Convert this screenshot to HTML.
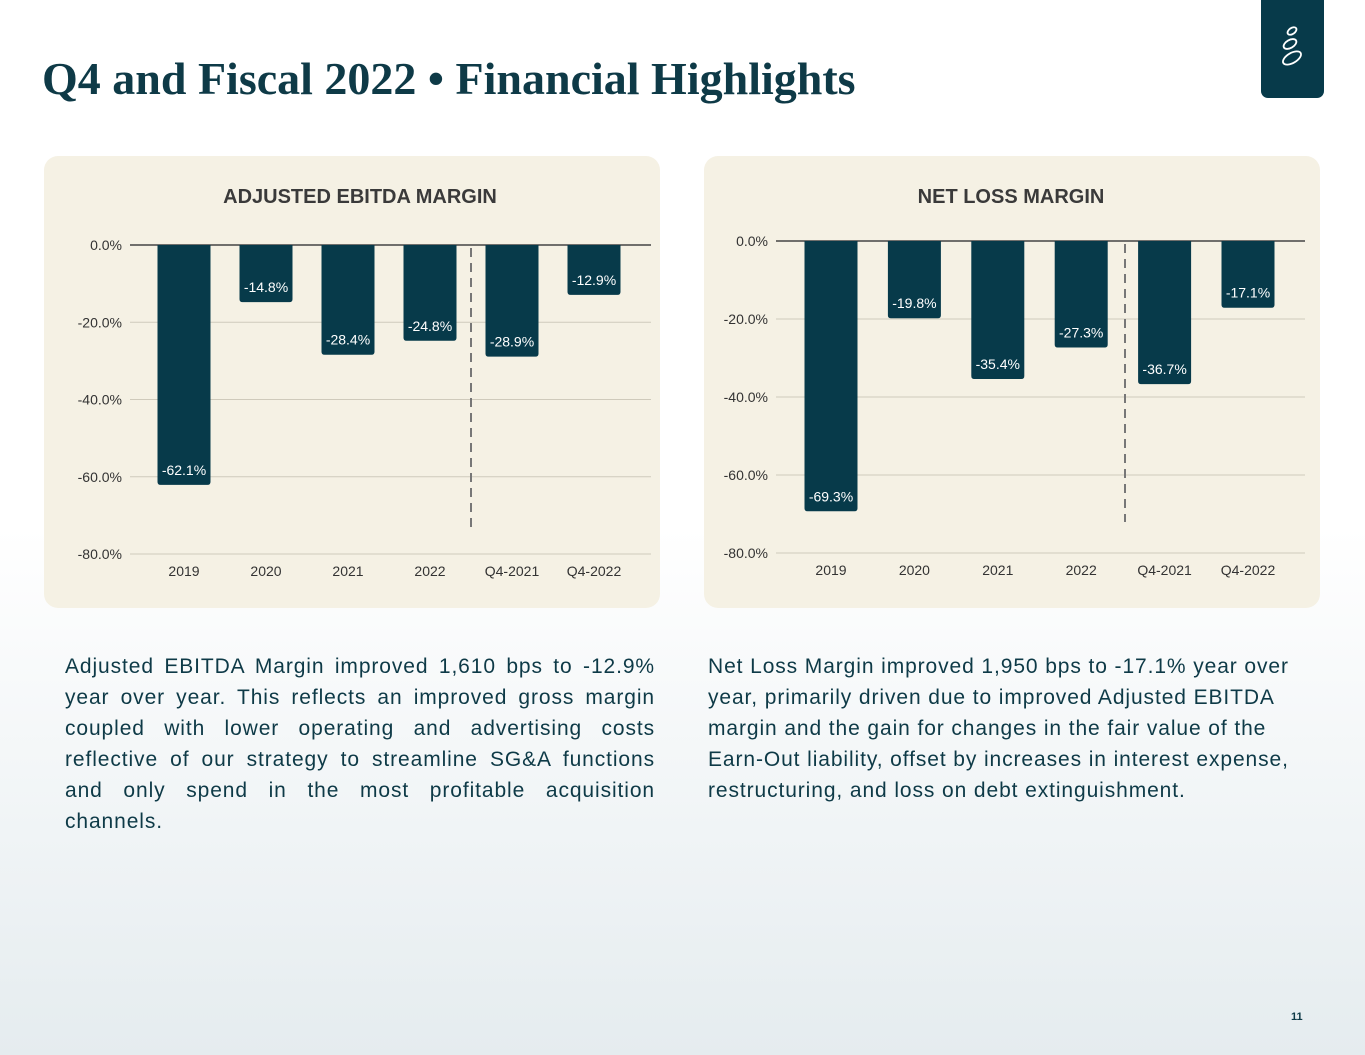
<!DOCTYPE html>
<html><head><meta charset="utf-8"><style>
html,body{margin:0;padding:0}
body{width:1365px;height:1055px;position:relative;overflow:hidden;background:linear-gradient(#ffffff 0%,#ffffff 50%,#e5ecef 100%);font-family:"Liberation Sans",sans-serif;color:#0e3a47}
#title{position:absolute;left:42px;top:52px;font-family:"Liberation Serif",serif;font-weight:bold;font-size:46px;letter-spacing:0;color:#0e3a47;margin:0;white-space:nowrap}
#logo{position:absolute;left:1261px;top:0;width:63px;height:98px;background:#073a4a;border-radius:0 0 7px 7px}
.panel{position:absolute;top:156px;width:616px;height:452px;background:#f5f1e4;border-radius:14px}
.para{position:absolute;top:651px;font-size:21px;line-height:31px;color:#0e3a47;letter-spacing:0.9px}
#p1{left:65px;width:590px}
#p1 span{display:block;text-align:justify;text-align-last:justify;white-space:nowrap}
#p1 span.last{text-align-last:left}
#p2{left:708px;width:620px;white-space:nowrap}
#pg{position:absolute;left:1291px;top:1011px;font-size:11px;font-weight:bold}
svg text{font-family:"Liberation Sans",sans-serif}
</style></head><body>
<h1 id="title">Q4 and Fiscal 2022 • Financial Highlights</h1>
<div id="logo">
<svg width="63" height="98" viewBox="0 0 63 98"><g fill="none" stroke="#fff" stroke-width="1.8">
<ellipse cx="31" cy="31" rx="5" ry="3" transform="rotate(-35 31 31)"/>
<ellipse cx="29" cy="44" rx="7" ry="4" transform="rotate(-30 29 44)"/>
<ellipse cx="31" cy="58" rx="10" ry="5" transform="rotate(-30 31 58)"/></g></svg></div>

<div class="panel" style="left:44px"></div>
<div class="panel" style="left:704px"></div>
<svg id="charts" width="1365" height="1055" style="position:absolute;left:0;top:0"></svg>

<div id="p1" class="para"><span>Adjusted EBITDA Margin improved 1,610 bps to -12.9%</span><span>year over year. This reflects an improved gross margin</span><span>coupled with lower operating and advertising costs</span><span>reflective of our strategy to streamline SG&amp;A functions</span><span>and only spend in the most profitable acquisition</span><span class="last">channels.</span></div>
<div id="p2" class="para">Net Loss Margin improved 1,950 bps to -17.1% year over<br>year, primarily driven due to improved Adjusted EBITDA<br>margin and the gain for changes in the fair value of the<br>Earn-Out liability, offset by increases in interest expense,<br>restructuring, and loss on debt extinguishment.</div>
<div id="pg">11</div>

<script>
const categories = ["2019","2020","2021","2022","Q4-2021","Q4-2022"];
const ebitdaValues = [-62.1,-14.8,-28.4,-24.8,-28.9,-12.9];
const netLossValues = [-69.3,-19.8,-35.4,-27.3,-36.7,-17.1];
const yTicks = [0,-20,-40,-60,-80];
const yTickLabels = ["0.0%","-20.0%","-40.0%","-60.0%","-80.0%"];

const NS="http://www.w3.org/2000/svg";
const svg=document.getElementById('charts');
function mk(tag,attrs,text){const e=document.createElementNS(NS,tag);for(const k in attrs)e.setAttribute(k,attrs[k]);if(text!==undefined)e.textContent=text;svg.appendChild(e);return e;}

function drawChart(cfg,values,title,prefix){
  const y=v=>cfg.y0+(v/-80)*(cfg.y80-cfg.y0);
  const x=i=>cfg.c0+i*cfg.step;
  let t=mk('text',{x:cfg.titleX,y:203,'text-anchor':'middle','font-size':20,'font-weight':'bold',fill:'#3a3a3a'},title);
  
  
  yTicks.forEach((v,i)=>{
    const g=mk('line',{x1:cfg.xl,x2:cfg.xr,y1:y(v),y2:y(v),stroke:v===0?'#444':'#cfcabb','stroke-width':v===0?1.5:1});
    
    
    const l=mk('text',{x:cfg.xl-8,y:y(v)+5,'text-anchor':'end','font-size':14,fill:'#333'},yTickLabels[i]);
    
    
  });
  values.forEach((v,i)=>{
    const top=y(0),bot=y(v),w=53;
    const b=mk('path',{d:`M${x(i)-w/2},${top} V${bot-3} Q${x(i)-w/2},${bot} ${x(i)-w/2+3},${bot} H${x(i)+w/2-3} Q${x(i)+w/2},${bot} ${x(i)+w/2},${bot-3} V${top} Z`,fill:'#073a4a'});
    
    
    const lb=mk('text',{x:x(i),y:bot-10,'text-anchor':'middle','font-size':14,fill:'#fff'},v.toFixed(1)+'%');
    
    
    const xl=mk('text',{x:x(i),y:cfg.y80+22,'text-anchor':'middle','font-size':14,fill:'#333'},categories[i]);
    
    
  });
  const d=mk('line',{x1:cfg.dash,x2:cfg.dash,y1:cfg.y0+3,y2:cfg.dashEnd,stroke:'#777','stroke-width':2,'stroke-dasharray':'9,6'});
  
  
}
drawChart({y0:245,y80:554,c0:184,step:82,xl:130,xr:651,dash:471,dashEnd:527,titleX:360},ebitdaValues,'ADJUSTED EBITDA MARGIN','ebitda');
drawChart({y0:241,y80:553,c0:831,step:83.4,xl:776,xr:1305,dash:1125,dashEnd:522,titleX:1011},netLossValues,'NET LOSS MARGIN','net-loss');
</script>
</body></html>
